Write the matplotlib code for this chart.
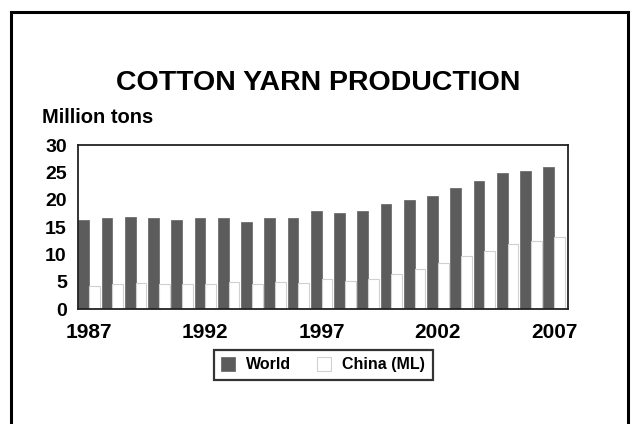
import matplotlib
matplotlib.use("Agg")
import matplotlib.pyplot as plt
import numpy as np
from matplotlib.patches import Rectangle

plt.rcParams['font.family'] = ['Liberation Sans', 'DejaVu Sans']
plt.rcParams['font.weight'] = 'bold'

# cotton yarn output, million tons
years = list(range(1987, 2008))
world = [16.3, 16.6, 16.9, 16.6, 16.3, 16.6, 16.6, 16.0, 16.6, 16.6, 17.9,
         17.5, 17.9, 19.3, 19.9, 20.7, 22.1, 23.4, 24.8, 25.3, 26.0]
china = [4.3, 4.5, 4.7, 4.6, 4.5, 4.6, 4.9, 4.6, 5.0, 4.8, 5.5,
         5.2, 5.5, 6.5, 7.4, 8.5, 9.7, 10.7, 11.9, 12.5, 13.1]
tick_years = [1987, 1992, 1997, 2002, 2007]

fig = plt.figure(figsize=(6.34, 4.24), dpi=100)
ax = fig.add_axes([0.123, 0.271, 0.773, 0.387])

x = np.arange(len(years))
w = 0.46
ax.bar(x - w / 2, world, width=w, color='#5c5c5c', edgecolor='#6e6e6e',
       linewidth=0.6, label='World')
ax.bar(x + w / 2, china, width=w, color='white', edgecolor='#d0d0d0',
       linewidth=0.8, label='China (ML)')

ax.set_xlim(-0.48, 20.6)
ax.set_ylim(0, 30)
ax.set_yticks(range(0, 31, 5))
ax.set_xticks([years.index(y) for y in tick_years])
ax.set_xticklabels([str(y) for y in tick_years])
ax.tick_params(length=0, labelsize=14, pad=8)
ax.tick_params(axis='x', labelsize=15, pad=10)
for s in ax.spines.values():
    s.set_linewidth(1.3)
    s.set_color('#222222')

fig.text(0.502, 0.804, 'COTTON YARN PRODUCTION', ha='center', va='center',
         fontsize=20.5, fontweight='bold')
fig.text(0.066, 0.724, 'Million tons', ha='left', va='center',
         fontsize=14.5, fontweight='bold')

leg = ax.legend(loc='center', bbox_to_anchor=(0.5, -0.34), ncol=2,
                frameon=True, fancybox=False, fontsize=11.5, handlelength=0.9,
                handleheight=0.9, columnspacing=1.6, handletextpad=0.7,
                borderpad=0.45)
leg.get_frame().set_edgecolor('black')
leg.get_frame().set_linewidth(1.6)

# outer frame around the whole chart
fig.patches.append(Rectangle((0.018, -0.1), 0.972, 1.072, transform=fig.transFigure,
                             fill=False, edgecolor='black', linewidth=2.2))

fig.savefig('out.png', dpi=100)
